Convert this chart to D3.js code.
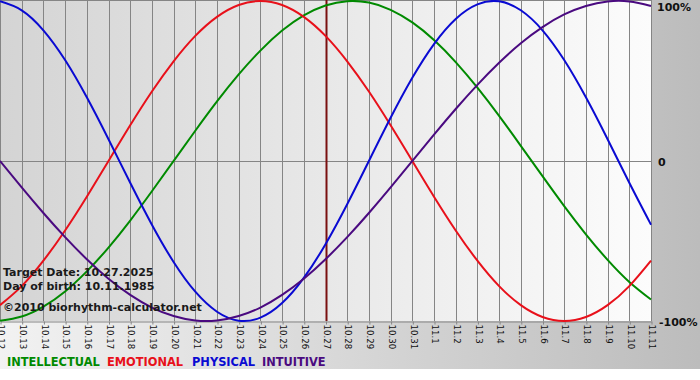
<!DOCTYPE html>
<html>
<head>
<meta charset="utf-8">
<script src="https://cdn.jsdelivr.net/npm/d3@7/dist/d3.min.js"></script>
<style>
html,body{margin:0;padding:0;background:#fff;}
svg{display:block;}
text{font-family:"DejaVu Sans",Verdana,sans-serif;}
</style>
</head>
<body>
<svg id="chart" width="700" height="380"></svg>
<script>
const dates = ["10.12","10.13","10.14","10.15","10.16","10.17","10.18","10.19","10.20","10.21","10.22","10.23","10.24","10.25","10.26","10.27","10.28","10.29","10.30","10.31","11.1","11.2","11.3","11.4","11.5","11.6","11.7","11.8","11.9","11.10","11.11"];
const physical = [0.998,0.942,0.817,0.631,0.398,0.136,-0.136,-0.398,-0.631,-0.817,-0.942,-0.998,-0.979,-0.888,-0.731,-0.520,-0.270,0.000,0.270,0.520,0.731,0.888,0.979,0.998,0.942,0.817,0.631,0.398,0.136,-0.136,-0.398];
const emotional = [-0.901,-0.782,-0.623,-0.434,-0.223,0.000,0.223,0.434,0.623,0.782,0.901,0.975,1.000,0.975,0.901,0.782,0.623,0.434,0.223,0.000,-0.223,-0.434,-0.623,-0.782,-0.901,-0.975,-1.000,-0.975,-0.901,-0.782,-0.623];
const intellectual = [-0.999,-0.972,-0.910,-0.815,-0.690,-0.541,-0.372,-0.189,0.000,0.189,0.372,0.541,0.690,0.815,0.910,0.972,0.999,0.990,0.945,0.866,0.756,0.618,0.458,0.282,0.095,-0.095,-0.282,-0.458,-0.618,-0.756,-0.866];
const intuitive = [0.000,-0.165,-0.325,-0.476,-0.614,-0.736,-0.837,-0.916,-0.969,-0.997,-0.997,-0.969,-0.916,-0.837,-0.736,-0.614,-0.476,-0.325,-0.165,0.000,0.165,0.325,0.476,0.614,0.736,0.837,0.916,0.969,0.997,0.997,0.969];
const yTicks = [1, 0, -1];
const yTickLabels = ["100%", "0", "-100%"];
const targetDate = "10.27";
const infoLines = ["Target Date: 10.27.2025", "Day of birth: 10.11.1985", "\u00a92010 biorhythm-calculator.net"];
const legendNames = ["INTELLECTUAL", "EMOTIONAL", "PHYSICAL", "INTUITIVE"];

const series = [
  {name: "INTELLECTUAL", values: intellectual, color: "#008a00"},
  {name: "EMOTIONAL", values: emotional, color: "#e8101a"},
  {name: "PHYSICAL", values: physical, color: "#0a0ad2"},
  {name: "INTUITIVE", values: intuitive, color: "#4a0a80"}
];

const svg = d3.select("#chart");
const W = 700, H = 380;
const plot = {left: 0, right: 651, top: 0, bottom: 321};

const defs = svg.append("defs");
const bgGrad = defs.append("linearGradient").attr("id", "bgGrad").attr("x1", "0").attr("x2", "1").attr("y1", "0").attr("y2", "0");
bgGrad.append("stop").attr("offset", "0").attr("stop-color", "#f2f2f2");
bgGrad.append("stop").attr("offset", "1").attr("stop-color", "#bcbcbc");
const plotGrad = defs.append("linearGradient").attr("id", "plotGrad").attr("x1", "0").attr("x2", "1").attr("y1", "0").attr("y2", "0");
plotGrad.append("stop").attr("offset", "0").attr("stop-color", "#d4d4d4");
plotGrad.append("stop").attr("offset", "1").attr("stop-color", "#fcfcfc");

svg.append("rect").attr("x", 0).attr("y", 0).attr("width", W).attr("height", H).attr("fill", "#ffffff");
svg.append("rect").attr("x", 0).attr("y", 0).attr("width", W).attr("height", 369).attr("fill", "url(#bgGrad)");
svg.append("rect").attr("x", plot.left).attr("y", plot.top).attr("width", plot.right - plot.left).attr("height", plot.bottom - plot.top).attr("fill", "url(#plotGrad)");

const x = d3.scalePoint().domain(dates).range([plot.left, plot.right]);
const y = d3.scaleLinear().domain([-1, 1]).range([plot.bottom, plot.top + 1]);

// vertical grid lines
svg.append("g").selectAll("line").data(dates).join("line")
  .attr("x1", d => Math.round(x(d)) + 0.5).attr("x2", d => Math.round(x(d)) + 0.5)
  .attr("y1", plot.top).attr("y2", plot.bottom)
  .attr("stroke", "#858585").attr("stroke-width", 1);

// horizontal lines: top, zero
svg.append("line").attr("x1", plot.left).attr("x2", plot.right).attr("y1", plot.top + 0.5).attr("y2", plot.top + 0.5).attr("stroke", "#858585");
svg.append("line").attr("x1", plot.left).attr("x2", plot.right).attr("y1", Math.round(y(0)) + 0.5).attr("y2", Math.round(y(0)) + 0.5).attr("stroke", "#858585");

// x axis
const xAxis = d3.axisBottom(x).tickSize(3).tickSizeOuter(0).tickPadding(2);
const gx = svg.append("g").attr("transform", `translate(0.5,${plot.bottom + 0.5})`).call(xAxis);
gx.select(".domain").attr("stroke", "#858585");
gx.selectAll(".tick line").attr("stroke", "#858585");
gx.selectAll(".tick text")
  .attr("font-size", "8.6px").attr("fill", "#111")
  .attr("text-anchor", "start")
  .attr("transform", "rotate(90)")
  .attr("x", 3).attr("y", 0).attr("dy", "0.32em");

// target date line
svg.append("line")
  .attr("x1", Math.round(x(targetDate)) + 0.5).attr("x2", Math.round(x(targetDate)) + 0.5)
  .attr("y1", plot.top).attr("y2", plot.bottom)
  .attr("stroke", "#7a1010").attr("stroke-width", 2);

// curves
const line = d3.line().x((d, i) => x(dates[i])).y(d => y(d)).curve(d3.curveNatural);
svg.append("g").selectAll("path").data(series).join("path")
  .attr("d", d => line(d.values))
  .attr("fill", "none").attr("stroke", d => d.color).attr("stroke-width", 2);

// y labels on right
const yLabelY = [11, 166, 326];
svg.append("g").selectAll("text").data(yTicks).join("text")
  .attr("x", (d, i) => i === 1 ? 658 : (i === 0 ? 657 : 659))
  .attr("y", (d, i) => yLabelY[i])
  .attr("font-size", "11px").attr("font-weight", "bold").attr("fill", "#111")
  .text((d, i) => yTickLabels[i]);

// info text
const infoY = [276, 290, 311];
svg.append("g").selectAll("text").data(infoLines).join("text")
  .attr("x", 3).attr("y", (d, i) => infoY[i])
  .attr("font-size", "11px").attr("font-weight", "bold").attr("fill", "#1a1a1a")
  .text(d => d);

// legend
const legendX = [7, 107, 192, 262];
svg.append("g").selectAll("text").data(legendNames).join("text")
  .attr("x", (d, i) => legendX[i]).attr("y", 366)
  .attr("font-size", "11.4px").attr("font-weight", "bold")
  .attr("fill", d => series.find(s => s.name === d).color)
  .text(d => d);
</script>
</body>
</html>
